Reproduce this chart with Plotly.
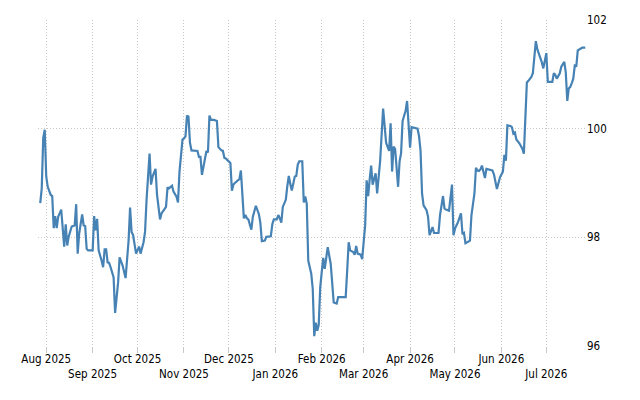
import plotly.graph_objects as go

dates = [
"2025-07-28","2025-07-29","2025-07-30","2025-07-31","2025-08-01","2025-08-02","2025-08-04","2025-08-05","2025-08-06","2025-08-07",
"2025-08-08","2025-08-09","2025-08-11","2025-08-12","2025-08-13","2025-08-14","2025-08-15","2025-08-16","2025-08-18","2025-08-20",
"2025-08-21","2025-08-22","2025-08-23","2025-08-25","2025-08-26","2025-08-27","2025-08-28","2025-08-29","2025-09-01","2025-09-02",
"2025-09-03","2025-09-04","2025-09-05","2025-09-07","2025-09-08","2025-09-09","2025-09-10","2025-09-11","2025-09-12","2025-09-13",
"2025-09-14","2025-09-15","2025-09-16","2025-09-18","2025-09-19","2025-09-21","2025-09-23","2025-09-25","2025-09-26","2025-09-27",
"2025-09-28","2025-09-29","2025-09-30","2025-10-02","2025-10-03","2025-10-05","2025-10-06","2025-10-07","2025-10-09","2025-10-10",
"2025-10-11","2025-10-13","2025-10-14","2025-10-16","2025-10-17","2025-10-20","2025-10-21","2025-10-22","2025-10-24","2025-10-25",
"2025-10-27","2025-10-28","2025-10-29","2025-10-31","2025-11-01","2025-11-02","2025-11-03","2025-11-04","2025-11-05","2025-11-06",
"2025-11-09","2025-11-10","2025-11-11","2025-11-12","2025-11-13","2025-11-14","2025-11-15","2025-11-16","2025-11-17","2025-11-18",
"2025-11-19","2025-11-21","2025-11-23","2025-11-24","2025-11-26","2025-11-27","2025-11-28","2025-11-29","2025-11-30","2025-12-02",
"2025-12-03","2025-12-04","2025-12-05","2025-12-06","2025-12-08","2025-12-09","2025-12-10","2025-12-11","2025-12-12","2025-12-13",
"2025-12-14","2025-12-16","2025-12-17","2025-12-19","2025-12-21","2025-12-22","2025-12-23","2025-12-25","2025-12-26","2025-12-28",
"2025-12-29","2025-12-30","2025-12-31","2026-01-02","2026-01-03","2026-01-04","2026-01-05","2026-01-06","2026-01-08","2026-01-09",
"2026-01-10","2026-01-11","2026-01-12","2026-01-14","2026-01-15","2026-01-16","2026-01-17","2026-01-19","2026-01-20","2026-01-21",
"2026-01-22","2026-01-23","2026-01-25","2026-01-26","2026-01-27","2026-01-28","2026-01-29","2026-01-30","2026-01-31","2026-02-01",
"2026-02-02","2026-02-03","2026-02-04","2026-02-05","2026-02-07","2026-02-08","2026-02-09","2026-02-11","2026-02-12","2026-02-15",
"2026-02-17","2026-02-18","2026-02-19","2026-02-20","2026-02-22","2026-02-23","2026-02-24","2026-02-25","2026-02-27","2026-02-28",
"2026-03-01","2026-03-02","2026-03-03","2026-03-04","2026-03-05","2026-03-06","2026-03-07","2026-03-08","2026-03-09","2026-03-10",
"2026-03-12","2026-03-14","2026-03-15","2026-03-16","2026-03-18","2026-03-19","2026-03-20","2026-03-21","2026-03-22","2026-03-23",
"2026-03-24","2026-03-25","2026-03-26","2026-03-27","2026-03-29","2026-03-30","2026-03-31","2026-04-01","2026-04-02","2026-04-04",
"2026-04-06","2026-04-07","2026-04-08","2026-04-09","2026-04-10","2026-04-12","2026-04-13","2026-04-14","2026-04-15","2026-04-16",
"2026-04-17","2026-04-18","2026-04-20","2026-04-21","2026-04-23","2026-04-24","2026-04-25","2026-04-27","2026-04-28","2026-04-29",
"2026-04-30","2026-05-01","2026-05-03","2026-05-05","2026-05-06","2026-05-07","2026-05-08","2026-05-10","2026-05-11","2026-05-12",
"2026-05-14","2026-05-15","2026-05-16","2026-05-17","2026-05-18","2026-05-19","2026-05-20","2026-05-21","2026-05-22","2026-05-24",
"2026-05-26","2026-05-27","2026-05-28","2026-05-29","2026-05-31","2026-06-02","2026-06-03","2026-06-04","2026-06-05","2026-06-07",
"2026-06-08","2026-06-09","2026-06-10","2026-06-11","2026-06-13","2026-06-14","2026-06-15","2026-06-16","2026-06-17","2026-06-18",
"2026-06-19","2026-06-21","2026-06-22","2026-06-23","2026-06-24","2026-06-25","2026-06-27","2026-06-28","2026-06-29","2026-07-01",
"2026-07-02","2026-07-03","2026-07-05","2026-07-06","2026-07-07","2026-07-08","2026-07-10","2026-07-11","2026-07-13","2026-07-14",
"2026-07-15","2026-07-16","2026-07-17","2026-07-18","2026-07-19","2026-07-20","2026-07-21","2026-07-22","2026-07-24","2026-07-25",
"2026-07-27",
]

values = [
98.63,98.90,99.83,99.98,99.12,98.93,98.78,98.76,98.17,98.39,
98.17,98.38,98.51,98.10,97.83,98.24,97.85,98.01,98.20,98.22,
98.61,97.70,98.07,98.42,98.22,98.21,97.79,97.76,97.76,98.39,
98.13,98.34,97.76,97.57,97.45,97.78,97.78,97.54,97.53,97.45,
97.33,97.26,96.61,97.17,97.63,97.48,97.25,97.94,98.55,98.10,
98.04,97.88,97.70,97.83,97.70,97.91,98.10,98.69,99.54,98.97,
99.12,99.26,98.78,98.33,98.44,98.56,98.92,98.90,98.95,98.84,
98.75,98.64,99.21,99.80,99.82,99.86,100.24,100.22,99.74,99.60,
99.59,99.59,99.48,99.48,99.15,99.31,99.49,99.59,99.56,100.24,
100.16,100.16,100.14,99.66,99.60,99.59,99.46,99.45,99.42,99.37,
98.86,98.97,99.00,99.03,99.07,99.23,98.82,98.35,98.41,98.35,
98.33,98.14,98.38,98.58,98.43,98.27,97.93,97.94,98.01,98.02,
98.02,98.24,98.33,98.33,98.41,98.35,98.27,98.56,98.69,98.94,
99.13,98.98,98.86,99.12,99.13,99.34,99.40,99.40,98.64,98.75,
98.62,97.57,97.33,97.05,96.18,96.43,96.28,96.39,97.08,97.36,
97.62,97.42,97.59,97.82,97.51,97.14,96.80,96.78,96.90,96.90,
96.90,97.39,97.91,97.76,97.73,97.68,97.84,97.70,97.68,97.60,
97.91,98.22,99.05,98.76,99.06,99.32,98.97,99.09,99.18,98.81,
99.40,100.37,100.08,99.74,99.59,100.10,99.21,99.67,99.63,99.31,
98.93,99.40,99.55,100.14,100.33,100.51,100.05,99.65,100.03,100.02,
100.00,99.86,99.59,98.81,98.59,98.50,98.38,98.04,98.13,98.19,
98.08,98.08,98.08,98.41,98.76,98.53,98.51,98.49,98.69,98.97,
98.04,98.16,98.28,98.44,98.06,98.08,97.89,97.92,97.94,98.41,
98.81,99.28,99.23,99.22,99.25,99.32,99.21,99.09,99.26,99.24,
99.23,99.16,99.04,98.89,99.10,99.21,99.52,99.41,100.06,100.05,
100.03,99.91,99.93,99.80,99.73,99.68,99.63,99.54,100.18,100.85,
100.88,100.95,101.02,101.36,101.61,101.46,101.31,101.22,101.11,101.39,
100.86,100.86,100.86,101.02,100.99,100.92,101.02,101.14,101.23,101.03,
100.51,100.74,100.77,100.84,100.92,101.16,101.14,101.44,101.47,101.49,
101.49,
]

tick_dates = ["2025-08-01","2025-09-01","2025-10-01","2025-11-01","2025-12-01","2026-01-01",
              "2026-02-01","2026-03-01","2026-04-01","2026-05-01","2026-06-01","2026-07-01"]
tick_labels = ["Aug 2025","Sep 2025","Oct 2025","Nov 2025","Dec 2025","Jan 2026",
               "Feb 2026","Mar 2026","Apr 2026","May 2026","Jun 2026","Jul 2026"]
y_ticks = [96, 98, 100, 102]

ticktext = [lab if i % 2 == 0 else "<br>" + lab for i, lab in enumerate(tick_labels)]

FONT = "DejaVu Sans Condensed, DejaVu Sans, sans-serif"
GRID = "#c8c8c8"
FS = 11.5

fig = go.Figure()
fig.add_trace(go.Scatter(
    x=dates, y=values, mode="lines",
    line=dict(color="#4682b4", width=2.2),
    hoverinfo="skip", showlegend=False,
))

fig.update_layout(
    width=640, height=400,
    margin=dict(l=38, r=54, t=20, b=54, autoexpand=False),
    paper_bgcolor="white", plot_bgcolor="white",
    font=dict(family=FONT, size=FS, color="#000000"),
    xaxis=dict(
        type="date",
        range=["2025-07-26 12:00", "2026-07-27 12:00"],
        tickmode="array", tickvals=tick_dates, ticktext=ticktext,
        tickangle=0, automargin=False, ticklabelstandoff=-4,
        showgrid=True, gridcolor=GRID, griddash="1px,2px", gridwidth=1,
        ticks="outside", ticklen=6, tickcolor=GRID,
        showline=False, zeroline=False,
        tickfont=dict(family=FONT, size=FS, color="#000000"),
    ),
    yaxis=dict(
        side="right", automargin=False,
        range=[96, 102],
        tickmode="array", tickvals=y_ticks, ticktext=[str(v) for v in y_ticks],
        showgrid=True, gridcolor=GRID, griddash="1px,2px", gridwidth=1,
        ticks="", showline=False, zeroline=False,
        tickfont=dict(family=FONT, size=FS, color="#000000"),
    ),
)

fig.write_html("out.html")
